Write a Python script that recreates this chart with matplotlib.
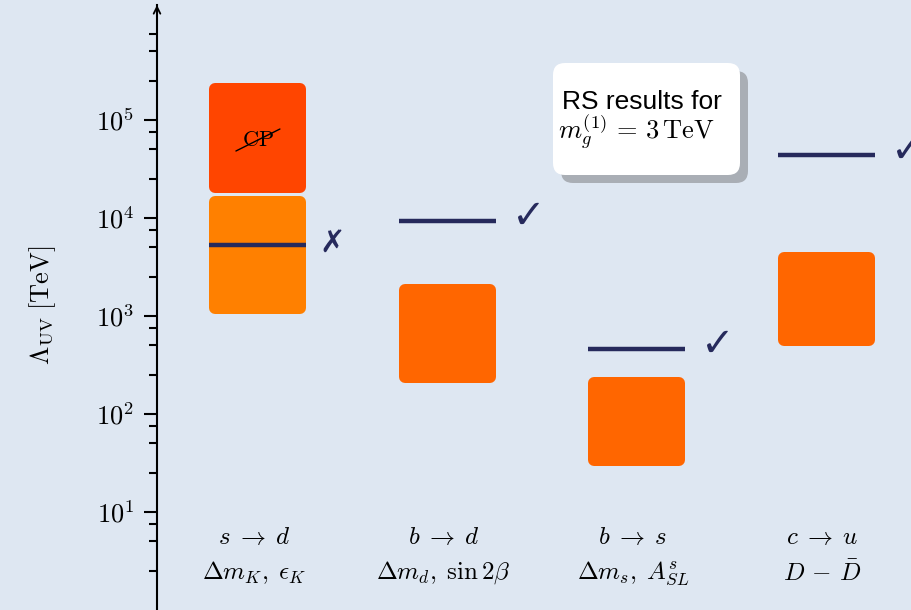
import numpy as np
import matplotlib
matplotlib.use("Agg")
import matplotlib.pyplot as plt
from matplotlib.patches import FancyBboxPatch
from matplotlib.ticker import FixedLocator, FuncFormatter, NullFormatter
import matplotlib.transforms as mtransforms

plt.rcParams['mathtext.fontset'] = 'cm'

# ---------------- data ----------------
categories = [r"$s\;\to\;d$", r"$b\;\to\;d$", r"$b\;\to\;s$", r"$c\;\to\;u$"]
observables = [r"$\Delta m_K,\;\epsilon_K$", r"$\Delta m_d,\;\sin 2\beta$",
               r"$\Delta m_s,\;A^s_{SL}$", r"$D\,-\,\bar D$"]
# main bounds (orange boxes): low, high  [TeV]
box_low = [1.05e3, 2.07e2, 2.95e1, 4.9e2]
box_high = [1.67e4, 2.1e3, 2.4e2, 4.5e3]
box_colors = ["#ff8000", "#ff6600", "#ff6600", "#ff6600"]
# CP-violating bound for s->d
cp_low = 1.8e4
cp_high = 2.4e5
cp_color = "#ff4500"
# RS predictions (lines)
rs_values = [5.3e3, 9.4e3, 4.6e2, 4.4e4]
rs_marks = ["\u2717", "\u2713", "\u2713", "\u2713"]

bg = "#dee7f2"
navy = "#262a5c"

W, H, DPI = 912, 610, 100
fig = plt.figure(figsize=(W / DPI, H / DPI), dpi=DPI, facecolor=bg)
ax_left_px = 157
ax = fig.add_axes([ax_left_px / W, 0, 1 - ax_left_px / W, 1])
ax.set_facecolor(bg)

x = np.arange(len(categories))
xmin, xmax = -0.533, 3.454
ymin_log, ymax_log = 0.0, 6.224
ax.set_xlim(xmin, xmax)
ax.set_yscale('log')
ax.set_ylim(10 ** ymin_log, 10 ** ymax_log)

px_per_x = (W - ax_left_px) / (xmax - xmin)
px_per_dec = H / (ymax_log - ymin_log)

bar_w = 0.512
r_px = 6.0  # corner radius in px
lw_pt = 2 * r_px * 72 / DPI
dx = r_px / px_per_x
fy = 10 ** (r_px / px_per_dec)


def rounded_bar(xc, lo, hi, color):
    ax.bar(xc, hi / fy - lo * fy, bottom=lo * fy, width=bar_w - 2 * dx,
           color=color, edgecolor=color, linewidth=lw_pt,
           joinstyle='round', zorder=2)


for i in range(len(categories)):
    rounded_bar(x[i], box_low[i], box_high[i], box_colors[i])
rounded_bar(x[0], cp_low, cp_high, cp_color)

# CP-violation label
cp_y = np.sqrt(cp_low * cp_high) * 0.95
ax.text(x[0], cp_y, r"$\mathrm{CP}$", ha='center', va='center', fontsize=16, zorder=4)
ax.annotate('', xy=(x[0], cp_y), xytext=(-22, -11), textcoords='offset pixels',
            arrowprops=dict(arrowstyle='-', lw=1.0, color='black', shrinkA=0, shrinkB=0), zorder=4)
ax.annotate('', xy=(x[0], cp_y), xytext=(22, 11), textcoords='offset pixels',
            arrowprops=dict(arrowstyle='-', lw=1.0, color='black', shrinkA=0, shrinkB=0), zorder=4)

# RS lines and marks
ax.hlines(rs_values, x - bar_w / 2, x + bar_w / 2, color=navy, lw=3.2, zorder=3,
          capstyle='butt')
for i in range(len(categories)):
    is_check = rs_marks[i] == "\u2713"
    ax.annotate(rs_marks[i], xy=(x[i] + bar_w / 2, rs_values[i]),
                xytext=(33 if is_check else 26, 4 if is_check else 2),
                textcoords='offset pixels', ha='center', va='center',
                fontsize=29 if is_check else 22,
                color=navy, fontfamily='DejaVu Sans', annotation_clip=False)

# category labels
trans = mtransforms.blended_transform_factory(ax.transData, ax.transAxes)
for i in range(len(categories)):
    ax.text(x[i] - 0.02, 1 - 537 / H, categories[i], transform=trans, ha='center',
            va='center', fontsize=18)
    ax.text(x[i] - 0.02, 1 - 573 / H, observables[i], transform=trans, ha='center',
            va='center', fontsize=18)

# axes styling
for s in ['top', 'right', 'bottom']:
    ax.spines[s].set_visible(False)
ax.spines['left'].set_linewidth(1.5)
tip = 10 ** (ymax_log - 5 / px_per_dec)
ax.spines['left'].set_bounds(10 ** ymin_log, tip)
ax.annotate('', xy=(xmin, tip), xytext=(xmin, tip / 3), xycoords='data',
            arrowprops=dict(arrowstyle='->', lw=1.3, color='black',
                            shrinkA=0, shrinkB=0, mutation_scale=12),
            annotation_clip=False)
ax.set_xticks([])
major = [1e1, 1e2, 1e3, 1e4, 1e5]
minor = [m * 10 ** e for e in range(0, 6) for m in (2.5, 5, 7.5)]
ax.yaxis.set_major_locator(FixedLocator(major))
ax.yaxis.set_minor_locator(FixedLocator(minor))
ax.yaxis.set_major_formatter(FuncFormatter(lambda v, p: r"$10^{%d}$" % round(np.log10(v))))
ax.yaxis.set_minor_formatter(NullFormatter())
ax.tick_params(axis='y', which='major', length=9.5, width=1.5, labelsize=19, pad=7)
ax.tick_params(axis='y', which='minor', length=6, width=1.5)
ax.set_ylabel(r"$\Lambda_{\rm UV}\;[\mathrm{TeV}]$", fontsize=19)
ax.yaxis.set_label_coords(-(157 - 58) / (W - ax_left_px), 1 - 305 / H)

# legend-like box
bx, by, bw, bh = 5.53, (H - 175) / DPI, 1.87, 1.12
shadow = FancyBboxPatch((bx + 0.08, by - 0.08), bw, bh,
                        boxstyle="round,pad=0,rounding_size=0.12",
                        transform=fig.dpi_scale_trans, fc="#a9aeb5", ec='none', zorder=5)
box = FancyBboxPatch((bx, by), bw, bh,
                     boxstyle="round,pad=0,rounding_size=0.12",
                     transform=fig.dpi_scale_trans, fc="white", ec='none', zorder=6)
fig.patches.extend([shadow, box])
fig.text(5.62 / (W / DPI), 1 - 102 / H, "RS results for", fontsize=19,
         fontfamily='Liberation Sans', va='center', ha='left', zorder=7)
fig.text(5.58 / (W / DPI), 1 - 132 / H, r"$m_g^{(1)}\,=\,3\,\mathrm{TeV}$", fontsize=19,
         va='center', ha='left', zorder=7)

fig.savefig("out.png", dpi=DPI, facecolor=bg)
